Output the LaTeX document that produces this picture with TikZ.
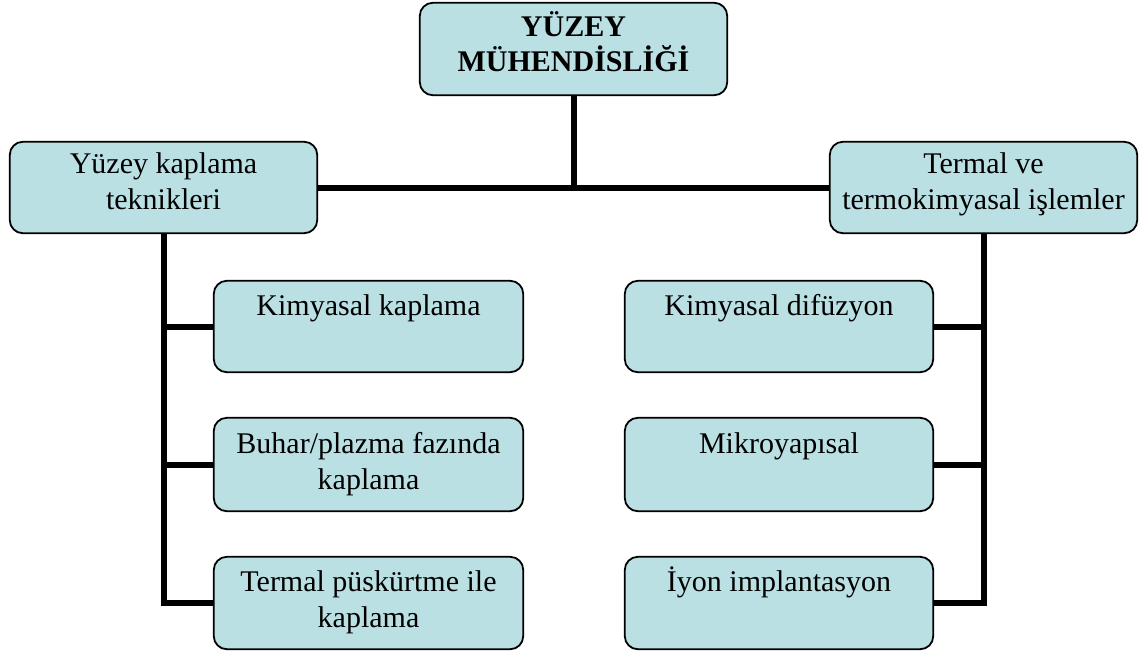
\documentclass[tikz,border=0pt]{standalone}
\usepackage{fontspec}
\setmainfont{Liberation Serif}
\definecolor{boxfill}{RGB}{186,224,227}
\newcommand{\fr}{\rule{0pt}{28pt}}
\begin{document}
\begin{tikzpicture}[x=1pt,y=-1pt,
  box/.style={draw=black,line width=1.8pt,fill=boxfill,rounded corners=13pt},
  slot/.style={inner sep=0pt},
  lbl/.style={anchor=north,inner sep=0pt,align=center,font=\fontsize{30}{36.5}\selectfont},
  conn/.style={line width=6pt,black}]
\useasboundingbox (0,0) rectangle (1148,653);
% box frames
\node[slot,minimum width=307pt,minimum height=92pt] (top) at (573.5,49) {};
\node[slot,minimum width=307pt,minimum height=91pt] (L) at (163.5,187.5) {};
\node[slot,minimum width=307pt,minimum height=91pt] (R) at (983.5,187.5) {};
\node[slot,minimum width=309pt,minimum height=91pt] (l1) at (368.5,326.5) {};
\node[slot,minimum width=309pt,minimum height=93pt] (l2) at (368.5,464.5) {};
\node[slot,minimum width=309pt,minimum height=92pt] (l3) at (368.5,603) {};
\node[slot,minimum width=308pt,minimum height=91pt] (r1) at (779,326.5) {};
\node[slot,minimum width=308pt,minimum height=93pt] (r2) at (779,464.5) {};
\node[slot,minimum width=308pt,minimum height=92pt] (r3) at (779,603) {};
% connectors
\draw[conn] (top.south) -- (top.south |- L.east);
\draw[conn] (L.east) -- (R.west);
\draw[conn] (L.south) |- (l3.west);
\draw[conn] (L.south |- l1.west) -- (l1.west);
\draw[conn] (L.south |- l2.west) -- (l2.west);
\draw[conn] (R.south) |- (r3.east);
\draw[conn] (R.south |- r1.east) -- (r1.east);
\draw[conn] (R.south |- r2.east) -- (r2.east);
% box outlines
\foreach \n in {top,L,R,l1,l2,l3,r1,r2,r3}{
  \draw[box] (\n.north west) rectangle (\n.south east);
}
% labels
\node[lbl,font=\fontsize{30}{35}\selectfont\bfseries] (ttop) at ([yshift=-5pt]top.north) {\fr YÜZEY\\ \fr MÜHENDİSLİĞİ};
\node[lbl] (tL) at ([yshift=-3pt]L.north) {\fr Yüzey kaplama\\ \fr teknikleri};
\node[lbl] (tR) at ([yshift=-3pt]R.north) {\fr Termal ve\\ \fr termokimyasal işlemler};
\node[lbl] (tl1) at ([yshift=-6pt]l1.north) {\fr Kimyasal kaplama};
\node[lbl] (tl2) at ([yshift=-7pt]l2.north) {\fr Buhar/plazma fazında\\ \fr kaplama};
\node[lbl] (tl3) at ([yshift=-6pt]l3.north) {\fr Termal püskürtme ile\\ \fr kaplama};
\node[lbl] (tr1) at ([yshift=-6pt]r1.north) {\fr Kimyasal difüzyon};
\node[lbl] (tr2) at ([yshift=-7pt]r2.north) {\fr Mikroyapısal};
\node[lbl] (tr3) at ([yshift=-6pt]r3.north) {\fr İyon implantasyon};
\end{tikzpicture}
\end{document}
